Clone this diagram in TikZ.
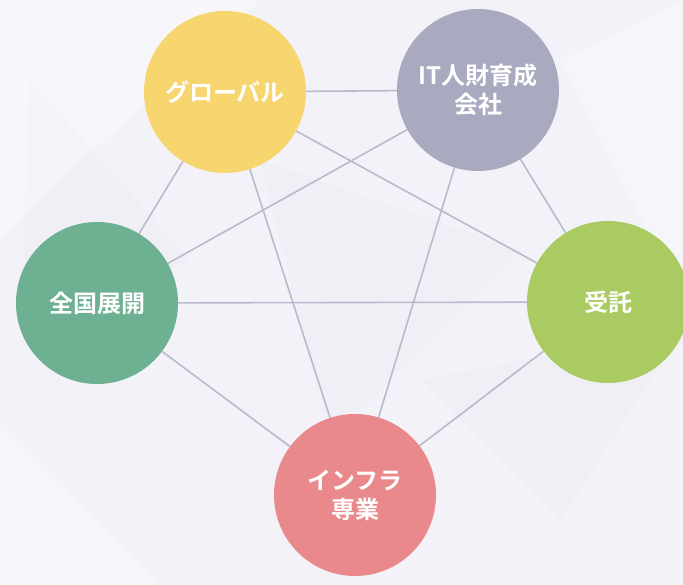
\documentclass[tikz,border=0pt]{standalone}
\usepackage{fontspec}
\setmainfont{Noto Sans CJK JP}[BoldFont={Noto Sans CJK JP Bold}]
\definecolor{bgc}{HTML}{F3F2F8}
\definecolor{linec}{HTML}{B9BACD}
\definecolor{cyellow}{HTML}{F7D56F}
\definecolor{cgray}{HTML}{A9AABF}
\definecolor{cgreen}{HTML}{6EB192}
\definecolor{clime}{HTML}{AACB62}
\definecolor{cpink}{HTML}{EA898C}
\begin{document}
\begin{tikzpicture}[x=1pt,y=-1pt,
  ball/.style={circle,minimum size=162pt,inner sep=0pt,text=white,
    font=\bfseries\fontsize{24}{29}\selectfont,align=center},
  link/.style={draw=linec,line width=1.6pt}]
\useasboundingbox (0,0) rectangle (683,585);
\fill[bgc] (0,0) rectangle (683,585);
% faint background facets
\fill[white,opacity=0.35] (0,0) -- (260,0) -- (60,180) -- (0,240) -- cycle;
\fill[white,opacity=0.25] (560,60) -- (683,0) -- (683,300) -- cycle;
\fill[white,opacity=0.25] (0,420) -- (160,585) -- (0,585) -- cycle;
\fill[linec,opacity=0.05] (260,160) -- (520,250) -- (330,440) -- cycle;
\fill[linec,opacity=0.04] (420,380) -- (683,330) -- (560,520) -- cycle;
\fill[linec,opacity=0.04] (30,80) -- (190,260) -- (20,330) -- cycle;
% nodes
\node[ball,fill=cyellow] (glob) at (225,92) {グローバル};
\node[ball,fill=cgray] (it) at (478,90) {IT人財育成\\会社};
\node[ball,fill=cgreen] (zen) at (97,303) {全国展開};
\node[ball,fill=clime] (jut) at (608,302) {受託};
\node[ball,fill=cpink] (inf) at (355,495) {インフラ\\専業};
% connectors
\draw[link] (glob) -- (it);
\draw[link] (glob) -- (zen);
\draw[link] (glob) -- (inf);
\draw[link] (glob) -- (jut);
\draw[link] (it) -- (zen);
\draw[link] (it) -- (inf);
\draw[link] (it) -- (jut);
\draw[link] (zen) -- (jut);
\draw[link] (zen) -- (inf);
\draw[link] (jut) -- (inf);
\end{tikzpicture}
\end{document}
